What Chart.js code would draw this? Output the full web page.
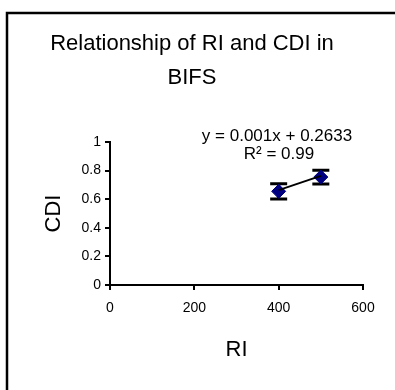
<!DOCTYPE html>
<html>
<head>
<meta charset="utf-8">
<script src="https://cdn.jsdelivr.net/npm/chart.js@4/dist/chart.umd.min.js"></script>
<style>
  body { margin: 0; background: #fff; overflow: hidden; }
  #wrap { width: 395px; height: 390px; }
</style>
</head>
<body>
<div id="wrap"><canvas id="myChart" width="395" height="390"></canvas></div>
<script>
"use strict";

// data
const riValues = [400, 500];
const cdiValues = [0.655, 0.755];
const cdiError = [0.053, 0.048];
const trendX = [400, 500];
const trendY = [0.6633, 0.7633];
const xTicks = [0, 200, 400, 600];
const yTicks = [0, 0.2, 0.4, 0.6, 0.8, 1];
const titleLines = [`Relationship of RI and CDI in`, `BIFS`];
const equationLines = [`y = 0.001x + 0.2633`, `R² = 0.99`];

const fontName = `'Liberation Sans', Arial, sans-serif`;

// white page, outer frame (only top and left edges are in view), title and equation
const decorations = {
  id: `decorations`,
  beforeDraw(chart) {
    const ctx = chart.ctx;
    ctx.save();
    ctx.fillStyle = `#fff`;
    ctx.fillRect(0, 0, chart.width, chart.height);
    ctx.strokeStyle = `#000`;
    ctx.lineWidth = 2.5;
    ctx.beginPath();
    ctx.moveTo(7, chart.height);
    ctx.lineTo(7, 13);
    ctx.lineTo(chart.width, 13);
    ctx.stroke();
    ctx.restore();
  },
  afterDraw(chart) {
    const ctx = chart.ctx;
    ctx.save();
    ctx.fillStyle = `#000`;
    ctx.textAlign = `center`;
    ctx.textBaseline = `alphabetic`;
    ctx.font = `22px ${fontName}`;
    ctx.fillText(titleLines[0], 192, 50);
    ctx.fillText(titleLines[1], 192, 84);
    ctx.font = `17px ${fontName}`;
    ctx.fillText(equationLines[0], 277, 141);
    ctx.fillText(equationLines[1], 279, 158.5);
    ctx.restore();
  }
};

// error bars under the markers
const errorBars = {
  id: `errorBars`,
  beforeDatasetsDraw(chart) {
    const ctx = chart.ctx;
    const xs = chart.scales.x;
    const ys = chart.scales.y;
    ctx.save();
    ctx.strokeStyle = `#000`;
    for (let i = 0; i < riValues.length; i++) {
      const px = xs.getPixelForValue(riValues[i]);
      const top = ys.getPixelForValue(cdiValues[i] + cdiError[i]);
      const bottom = ys.getPixelForValue(cdiValues[i] - cdiError[i]);
      ctx.lineWidth = 3;
      ctx.beginPath();
      ctx.moveTo(px, top);
      ctx.lineTo(px, bottom);
      ctx.moveTo(px - 8.5, top);
      ctx.lineTo(px + 8.5, top);
      ctx.moveTo(px - 8.5, bottom);
      ctx.lineTo(px + 8.5, bottom);
      ctx.stroke();
    }
    ctx.restore();
  }
};

const chartCanvas = document.getElementById(`myChart`).getContext(`2d`);
const chart = new Chart(chartCanvas, {
  type: `scatter`,
  data: {
    datasets: [
      {
        label: `trend`,
        type: `line`,
        data: trendX.map((x, i) => ({ x: x, y: trendY[i] })),
        borderColor: `#000`,
        borderWidth: 2,
        pointRadius: 0,
        fill: false,
        order: 0
      },
      {
        label: `CDI`,
        data: riValues.map((x, i) => ({ x: x, y: cdiValues[i] })),
        pointStyle: `rectRot`,
        pointRadius: 7,
        backgroundColor: `#000080`,
        borderColor: `#000080`,
        borderWidth: 1,
        order: 1
      }
    ]
  },
  options: {
    responsive: false,
    animation: false,
    layout: { padding: { top: 142, right: 32, left: 0, bottom: 0 } },
    plugins: {
      legend: { display: false },
      tooltip: { enabled: false }
    },
    scales: {
      x: {
        type: `linear`,
        min: 0,
        max: 600,
        afterFit: (s) => { s.height = 105; },
        afterBuildTicks: (s) => { s.ticks = xTicks.map((v) => ({ value: v })); },
        ticks: {
          color: `#000`,
          font: { family: fontName, size: 14 },
          padding: 10,
          maxRotation: 0,
          callback: (v) => `${v}`
        },
        grid: { drawOnChartArea: false, drawTicks: true, tickLength: 5, color: `#000`, lineWidth: 2 },
        border: { color: `#000`, width: 2 },
        title: {
          display: true,
          text: `RI`,
          color: `#000`,
          font: { family: fontName, size: 22 },
          padding: { top: 0, bottom: 27 }
        }
      },
      y: {
        min: 0,
        max: 1,
        afterFit: (s) => { s.width = 110; },
        afterBuildTicks: (s) => { s.ticks = yTicks.map((v) => ({ value: v })); },
        ticks: {
          color: `#000`,
          font: { family: fontName, size: 14 },
          padding: 4,
          callback: (v) => `${v}`
        },
        grid: { drawOnChartArea: false, drawTicks: true, tickLength: 5, color: `#000`, lineWidth: 2 },
        border: { color: `#000`, width: 2 },
        title: {
          display: true,
          text: `CDI`,
          color: `#000`,
          font: { family: fontName, size: 22 },
          padding: { top: 41, bottom: 0 }
        }
      }
    }
  },
  plugins: [decorations, errorBars]
});
</script>
</body>
</html>
